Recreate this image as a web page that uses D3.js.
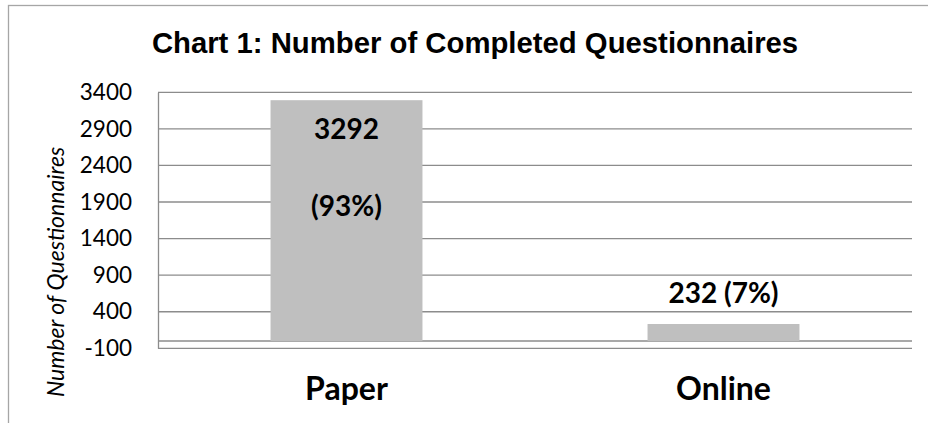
<!DOCTYPE html>
<html>
<head>
<meta charset="utf-8">
<script src="https://cdn.jsdelivr.net/npm/d3@7"></script>
<style>
  html, body { margin: 0; padding: 0; background: #fff; }
  svg { display: block; }
</style>
</head>
<body>
<svg id="chart" width="928" height="423"></svg>
<script>
// ---- data ----
const categories = ["Paper", "Online"];
const values = [3292, 232];
const valueLabels = [["3292", "(93%)"], ["232 (7%)"]];
const tickValues = [-100, 400, 900, 1400, 1900, 2400, 2900, 3400];
const titleText = "Chart 1: Number of Completed Questionnaires";
const yAxisTitle = "Number of Questionnaires";

// ---- layout ----
const W = 928, H = 423;
const plot = { left: 158, right: 912, top: 92.3, bottom: 348.3 };
const svg = d3.select("#chart");

// outer chart border (extends beyond right/bottom edges)
svg.append("rect")
  .attr("x", 8.5).attr("y", 5.5)
  .attr("width", W + 20).attr("height", H + 20)
  .attr("fill", "#fff").attr("stroke", "#a6a6a6").attr("stroke-width", 1.3);

const y = d3.scaleLinear().domain([-100, 3400]).range([plot.bottom, plot.top]);
const x = d3.scaleBand().domain(categories).range([plot.left, plot.right]).padding(0);
const barW = x.bandwidth() * 0.403;

// gridlines
svg.append("g").selectAll("line").data(tickValues).join("line")
  .attr("x1", plot.left).attr("x2", plot.right)
  .attr("y1", d => y(d)).attr("y2", d => y(d))
  .attr("stroke", "#8c8c8c").attr("stroke-width", 1.3);

// zero line
svg.append("line")
  .attr("x1", plot.left).attr("x2", plot.right)
  .attr("y1", y(0)).attr("y2", y(0))
  .attr("stroke", "#8c8c8c").attr("stroke-width", 1.3);

// y axis (vertical line + labels)
const yAxis = d3.axisLeft(y).tickValues(tickValues).tickSize(0).tickPadding(26)
  .tickFormat(d => String(d));
const gy = svg.append("g").attr("transform", `translate(${plot.left},0)`).call(yAxis);
gy.select(".domain").attr("stroke", "#8c8c8c").attr("stroke-width", 1.3);
gy.selectAll("text")
  .attr("font-family", "Lato, sans-serif").attr("font-size", 22.5).attr("fill", "#000");

// bars
svg.append("g").selectAll("rect").data(categories).join("rect")
  .attr("x", d => x(d) + x.bandwidth() / 2 - barW / 2)
  .attr("width", barW)
  .attr("y", (d, i) => y(values[i]))
  .attr("height", (d, i) => y(0) - y(values[i]))
  .attr("fill", "#bfbfbf");

// data labels
const lab = svg.append("g").attr("font-family", "Lato, sans-serif")
  .attr("font-size", 28).attr("font-weight", "bold").attr("text-anchor", "middle");
// Paper: inside the bar, two lines
lab.append("text")
  .attr("x", x(categories[0]) + x.bandwidth() / 2)
  .attr("y", y(values[0]) + 38.5)
  .selectAll("tspan").data(valueLabels[0]).join("tspan")
  .attr("x", x(categories[0]) + x.bandwidth() / 2)
  .attr("dy", (d, i) => i === 0 ? 0 : 77)
  .text(d => d);
// Online: above the bar
lab.append("text")
  .attr("x", x(categories[1]) + x.bandwidth() / 2)
  .attr("y", y(values[1]) - 21)
  .text(valueLabels[1][0]);

// category labels
svg.append("g").selectAll("text").data(categories).join("text")
  .attr("x", d => x(d) + x.bandwidth() / 2)
  .attr("y", 400)
  .attr("text-anchor", "middle")
  .attr("font-family", "Lato, sans-serif").attr("font-size", 32).attr("font-weight", "bold")
  .text(d => d);

// title
svg.append("text")
  .attr("x", 475).attr("y", 53)
  .attr("text-anchor", "middle")
  .attr("font-family", "'Liberation Sans', Arial, sans-serif")
  .attr("font-size", 29.3).attr("font-weight", "bold")
  .text(titleText);

// y-axis title
svg.append("text")
  .attr("transform", "translate(64,272) rotate(-90)")
  .attr("text-anchor", "middle")
  .attr("font-family", "Lato, sans-serif").attr("font-size", 23).attr("font-style", "italic")
  .text(yAxisTitle);
</script>
</body>
</html>
